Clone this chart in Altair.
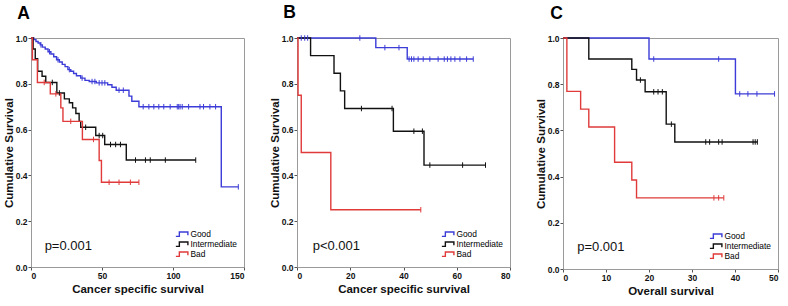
import altair as alt
import pandas as pd

GROUPS = ["Good", "Intermediate", "Bad"]
COLORS = ["#3c3cd8", "#111111", "#e03a3a"]
FONT = "Liberation Sans"

# ---------------- Panel A (Cancer specific survival) ----------------
a_good_t = [0, 2, 3.5, 5, 6.5, 8, 10, 12, 14, 16, 18, 20, 22, 24, 26, 28, 30, 32, 35, 38, 41, 46, 54, 57, 60, 69, 71, 76, 134, 146]
a_good_s = [1.0, 0.993, 0.985, 0.978, 0.97, 0.96, 0.952, 0.94, 0.93, 0.918, 0.905, 0.895, 0.885, 0.875, 0.862, 0.855, 0.845, 0.835, 0.825, 0.815, 0.81, 0.804, 0.796, 0.785, 0.772, 0.746, 0.724, 0.70, 0.35, 0.35]
a_good_c = [7, 13, 19, 27, 36, 43, 45, 48, 50, 52, 62, 65, 79, 83, 86.5, 90, 93.5, 98, 103, 104, 105, 106.5, 111, 119, 121.5, 126, 130, 146]

a_int_t = [0, 1.5, 3, 4.7, 7.8, 10.4, 18.2, 23.5, 27, 29.3, 31.6, 33.9, 35, 45.6, 51.9, 67.1, 116]
a_int_s = [1.0, 0.952, 0.91, 0.855, 0.833, 0.806, 0.76, 0.734, 0.717, 0.695, 0.67, 0.636, 0.61, 0.574, 0.535, 0.467, 0.467]
a_int_c = [15, 20, 38.5, 48, 50.5, 56, 59.6, 63, 73.6, 80.6, 84, 94.6, 116]

a_bad_t = [0, 1, 4.5, 13.6, 21, 22.5, 36.2, 48, 49.6, 76]
a_bad_s = [1.0, 0.905, 0.806, 0.756, 0.695, 0.636, 0.557, 0.465, 0.37, 0.37]
a_bad_c = [9.3, 17.5, 28, 44, 55, 62, 70, 76]

# ---------------- Panel B (Cancer specific survival) ----------------
b_good_t = [0, 29.6, 41.4, 66.2]
b_good_s = [1.0, 0.958, 0.908, 0.908]
b_good_c = [1.6, 2.9, 4.0, 23.6, 33, 38.3, 42.1, 43, 43.9, 45.5, 47.4, 49.9, 53, 55.3, 56.5, 57.8, 59.3, 61.2, 63.7, 66.2]

b_int_t = [0, 5.1, 13.9, 16.3, 17.9, 36.2, 47.7, 70.8]
b_int_s = [1.0, 0.923, 0.846, 0.769, 0.692, 0.593, 0.445, 0.445]
b_int_c = [24.2, 35.7, 43.9, 47.1, 49.9, 62.2, 70.8]

b_bad_t = [0, 0.4, 1.6, 12.7, 46.5]
b_bad_s = [1.0, 0.75, 0.5, 0.25, 0.25]
b_bad_c = [46.5]

# ---------------- Panel C (Overall survival) ----------------
c_good_t = [0, 20, 40.1, 49.2]
c_good_s = [1.0, 0.909, 0.758, 0.758]
c_good_c = [21.1, 36.2, 41.1, 43, 45.1, 49.2]

c_int_t = [0, 6, 16, 17.1, 19.1, 24, 26, 45.2]
c_int_s = [1.0, 0.909, 0.864, 0.818, 0.767, 0.627, 0.55, 0.55]
c_int_c = [18, 21.1, 22.1, 23.1, 25.2, 33.2, 34.1, 36.2, 37, 44.2, 44.7, 45.2]

c_bad_t = [0, 0.9, 4.1, 6, 12, 16, 17.1, 37.4]
c_bad_s = [1.0, 0.769, 0.692, 0.615, 0.462, 0.385, 0.308, 0.308]
c_bad_c = [35.1, 36.2, 37.4]

x_ticks_a = [0, 50, 100, 150]
x_ticks_b = [0, 20, 40, 60, 80]
x_ticks_c = [0, 10, 20, 30, 40, 50]
y_ticks = [0.0, 0.2, 0.4, 0.6, 0.8, 1.0]


def step_value(ts, ss, c):
    v = ss[0]
    for t, s in zip(ts, ss):
        if t <= c:
            v = s
    return v


def build(series):
    lines, marks = [], []
    for g, (ts, ss, cs) in zip(GROUPS, series):
        for i, (t, s) in enumerate(zip(ts, ss)):
            lines.append({"t": t, "s": s, "group": g, "i": i})
        for c in cs:
            marks.append({"t": c, "s": step_value(ts, ss, c), "group": g})
    return pd.DataFrame(lines), pd.DataFrame(marks)


STEP_SYMBOL = "M-2,0.7 L-0.9,0.7 L-0.9,-0.7 L1.8,-0.7 L1.8,0.3"


def panel(letter, series, xmax, xticks, xtitle, ptext, px, py, w, h, dx):
    ldf, mdf = build(series)
    xenc = alt.X("t:Q", scale=alt.Scale(domain=[0, xmax], nice=False, zero=False),
                 axis=alt.Axis(values=xticks, title=xtitle, format="d"))
    yenc = alt.Y("s:Q", scale=alt.Scale(domain=[0, 1], nice=False),
                 axis=alt.Axis(values=y_ticks, format=".1f", title="Cumulative Survival"))
    legend = alt.Legend(title=None, orient="bottom-right", offset=7,
                        symbolType=STEP_SYMBOL, symbolSize=40, symbolStrokeWidth=1.4,
                        symbolFillColor="transparent", labelFontSize=8.4, labelFont=FONT,
                        labelFontWeight="normal", labelOffset=4, rowPadding=-1, padding=0)
    cenc = alt.Color("group:N", scale=alt.Scale(domain=GROUPS, range=COLORS), legend=legend)
    line = alt.Chart(ldf).mark_line(interpolate="step-after", strokeWidth=1.4).encode(
        x=xenc, y=yenc, color=cenc, order="i:Q")
    cens = alt.Chart(mdf).mark_point(shape="M0,-1L0,1", size=30, filled=False, strokeWidth=1, opacity=1).encode(
        x=xenc, y=yenc, color=cenc)
    ptxt = alt.Chart(pd.DataFrame({"t": [px], "s": [py], "label": [ptext]})).mark_text(
        align="left", baseline="middle", fontSize=13, font=FONT, color="#111").encode(
        x="t:Q", y="s:Q", text="label:N")
    return alt.layer(line, cens, ptxt).properties(
        width=w, height=h,
        title=alt.TitleParams(letter, anchor="start", frame="bounds", fontSize=17.5,
                              fontWeight="bold", font=FONT, color="#000", offset=12, dx=dx))


pa = panel("A", [(a_good_t, a_good_s, a_good_c), (a_int_t, a_int_s, a_int_c), (a_bad_t, a_bad_s, a_bad_c)],
           150, x_ticks_a, "Cancer specific survival", "p=0.001", 9.6, 0.09, 213, 229, 14)
pb = panel("B", [(b_good_t, b_good_s, b_good_c), (b_int_t, b_int_s, b_int_c), (b_bad_t, b_bad_s, b_bad_c)],
           80, x_ticks_b, "Cancer specific survival", "p<0.001", 5.9, 0.09, 213, 229, 14)
pc = panel("C", [(c_good_t, c_good_s, c_good_c), (c_int_t, c_int_s, c_int_c), (c_bad_t, c_bad_s, c_bad_c)],
           50, x_ticks_c, "Overall survival", "p=0.001", 3.3, 0.095, 215, 231, 15)

chart = alt.hconcat(pa, pb, pc, spacing=53, bounds="flush").resolve_scale(
    color="independent").resolve_legend(color="independent").properties(
    padding={"left": 2, "top": 3, "right": 0, "bottom": 0}
).configure_view(stroke="#9a9a9a", strokeWidth=1).configure_axis(
    grid=False, domainColor="#9a9a9a", domainWidth=1, tickColor="#555", tickSize=3,
    labelFont=FONT, labelFontWeight="bold", labelFontSize=8.5, labelColor="#111", labelPadding=1,
    titleFont=FONT, titleFontWeight="bold", titleFontSize=11.5, titleColor="#111"
).configure_axisY(titlePadding=1).configure_axisX(titlePadding=4)

chart.save("out.html", embed_options={"renderer": "svg", "actions": False})
